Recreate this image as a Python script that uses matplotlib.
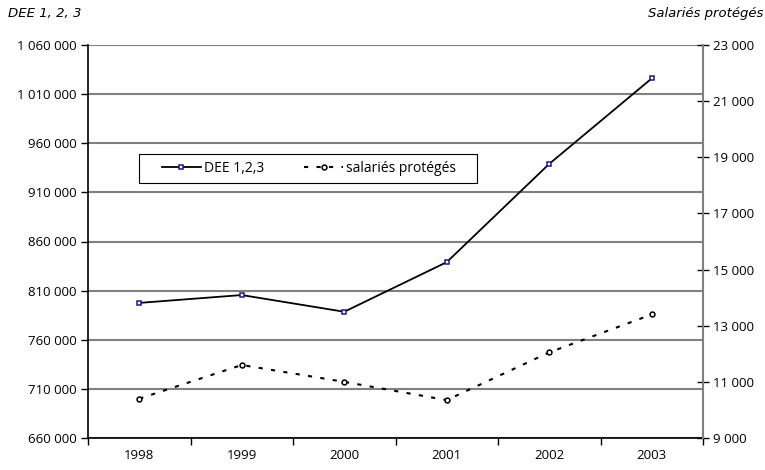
import matplotlib.pyplot as plt
from matplotlib.patches import Rectangle
from matplotlib.ticker import FixedLocator, FuncFormatter

# Données annuelles
annees = ["1998", "1999", "2000", "2001", "2002", "2003"]
dee = [797500, 805500, 788500, 839000, 939000, 1026000]
salaries = [10400, 11600, 11000, 10350, 12050, 13400]

plt.rcParams['font.family'] = ['Open Sans', 'DejaVu Sans']

def espace_milliers(v, pos=None):
    return f"{int(round(v)):,}".replace(",", " ")

fig = plt.figure(figsize=(7.65, 4.7), dpi=100)
ax = fig.add_axes([88 / 765, 32 / 470, 615 / 765, 393 / 470])
ax2 = ax.twinx()

x = list(range(len(annees)))

# grille horizontale grise
for v in range(660000, 1060001, 50000):
    ax.axhline(v, color='#808080', lw=1.5, zorder=0)

l1, = ax.plot(x, dee, color='black', lw=1.3, marker='s', markersize=3.5,
              markerfacecolor='white', markeredgecolor='#1a1a8c',
              markeredgewidth=1.1, label="DEE 1,2,3", zorder=3)
l2, = ax2.plot(x, salaries, color='black', lw=1.5, linestyle=(0, (2, 4)),
               marker='o', markersize=3.5, markerfacecolor='white',
               markeredgecolor='black', markeredgewidth=1.1,
               label="salariés protégés", zorder=3)

ax.set_xlim(-0.5, len(annees) - 0.5)
ax.set_ylim(660000, 1060000)
ax2.set_ylim(9000, 23000)

ax.set_yticks(range(660000, 1060001, 50000))
ax.yaxis.set_major_formatter(FuncFormatter(espace_milliers))
ax2.set_yticks(range(9000, 23001, 2000))
ax2.yaxis.set_major_formatter(FuncFormatter(espace_milliers))

# années entre les graduations de l'axe des x
ax.set_xticks(x)
ax.set_xticklabels(annees)
ax.xaxis.set_minor_locator(FixedLocator([i - 0.5 for i in range(len(annees) + 1)]))
ax.tick_params(axis='x', which='major', length=0, pad=8, labelsize=9.5)
ax.tick_params(axis='x', which='minor', length=5, width=1, direction='out')
ax.tick_params(axis='y', length=5, width=1, direction='out', labelsize=9.5, pad=3)
ax2.tick_params(axis='y', length=8, width=1, direction='inout', labelsize=9.5,
                pad=3, color='black')

for s in ['top', 'right']:
    ax.spines[s].set_visible(False)
ax2.spines['top'].set_visible(False)
ax2.spines['left'].set_visible(False)
ax2.spines['bottom'].set_visible(False)
ax2.spines['right'].set_color('#808080')
ax2.spines['right'].set_linewidth(1.5)
ax.spines['left'].set_linewidth(1.2)
ax.spines['bottom'].set_linewidth(1.2)

# cadre de la légende, plus large à gauche
cadre = Rectangle((0.0829, 0.6489), 0.5496, 0.0738, transform=ax2.transAxes,
                  facecolor='white', edgecolor='black', lw=0.8, zorder=4)
ax2.add_patch(cadre)

leg = ax2.legend(handles=[l1, l2], ncol=2, loc='upper left',
                 bbox_to_anchor=(0.1203, 0.706), borderaxespad=0, fontsize=10,
                 frameon=False, handlelength=2.8, handletextpad=0.2,
                 columnspacing=2.9, borderpad=0)
leg.set_zorder(5)

fig.text(8 / 765, 1 - 13 / 470, "DEE 1, 2, 3", style='italic', fontsize=9.5,
         family=['DejaVu Sans'], va='center', ha='left')
fig.text(763 / 765, 1 - 13 / 470, "Salariés protégés", style='italic',
         fontsize=9.5, family=['DejaVu Sans'], va='center', ha='right')

fig.savefig("out.png", dpi=100)
